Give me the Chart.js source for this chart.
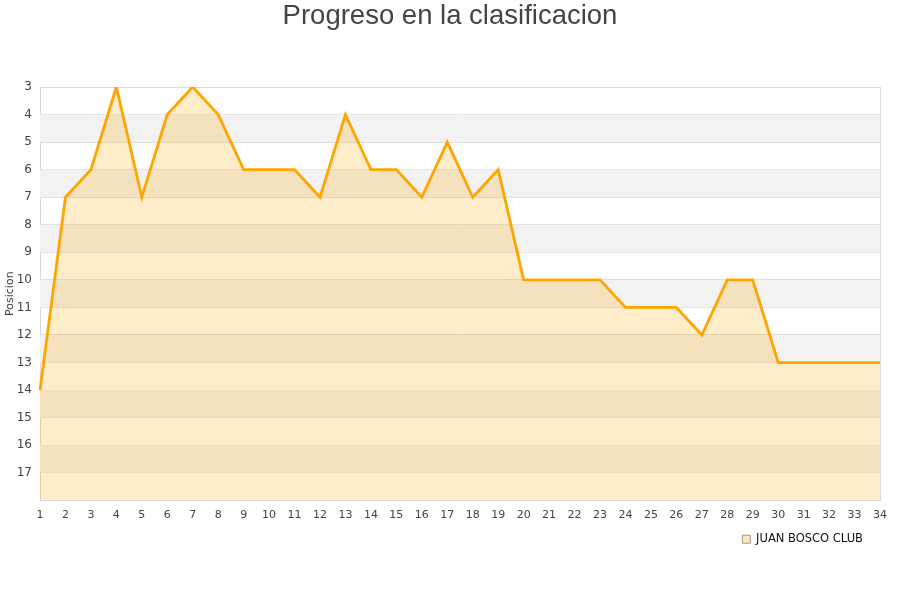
<!DOCTYPE html>
<html>
<head>
<meta charset="utf-8">
<script src="https://cdn.jsdelivr.net/npm/chart.js@4/dist/chart.umd.min.js"></script>
<style>
html,body{margin:0;padding:0;background:#fff;}
#wrap{width:900px;height:600px;}
</style>
</head>
<body>
<div id="wrap"><canvas id="c" width="900" height="600"></canvas></div>
<script>
const jornadas = ['1','2','3','4','5','6','7','8','9','10','11','12','13','14','15','16','17','18','19','20','21','22','23','24','25','26','27','28','29','30','31','32','33','34'];
const posiciones = [14,7,6,3,7,4,3,4,6,6,6,7,4,6,6,7,5,7,6,10,10,10,10,11,11,11,12,10,10,13,13,13,13,13];
const equipo = 'JUAN BOSCO CLUB';
const titulo = 'Progreso en la clasificacion';
const ejeY = 'Posicion';
const posMin = 3, posMax = 18;

const bands = {
  id: 'bands',
  afterLayout(chart) {
    if (chart.legend) chart.legend.right = 867;
  },
  beforeDatasetsDraw(chart) {
    const {ctx, chartArea: a, scales: {y}} = chart;
    ctx.save();
    for (let v = posMin; v < posMax; v++) {
      if ((v - posMin) % 2 === 1) {
        const p1 = y.getPixelForValue(v), p2 = y.getPixelForValue(v + 1);
        ctx.fillStyle = '#f2f2f2';
        ctx.fillRect(a.left, Math.min(p1, p2), a.right - a.left, Math.abs(p2 - p1));
      }
    }
    ctx.restore();
  },
  afterDraw(chart) {
    const {ctx, chartArea: a} = chart;
    ctx.save();
    ctx.strokeStyle = '#dcdcdc';
    ctx.lineWidth = 1;
    ctx.beginPath();
    ctx.moveTo(a.right + 0.5, a.top);
    ctx.lineTo(a.right + 0.5, a.bottom);
    ctx.stroke();
    ctx.restore();
  }
};

new Chart(document.getElementById('c'), {
  type: 'line',
  data: {
    labels: jornadas,
    datasets: [{
      label: equipo,
      data: posiciones,
      borderColor: '#ffa500',
      backgroundColor: 'rgba(255,165,0,0.21)',
      borderWidth: 2.8,
      pointRadius: 0,
      fill: 'start',
      tension: 0
    }]
  },
  options: {
    responsive: false,
    animation: false,
    layout: { padding: { left: 0, right: 0, top: 0, bottom: 45 } },
    plugins: {
      title: {
        display: true, text: titulo, color: '#444',
        font: { family: 'Liberation Sans', size: 27.5, weight: 'normal' },
        padding: { top: 0, bottom: 54 }
      },
      legend: {
        position: 'bottom', align: 'end',
        labels: {
          color: '#111',
          font: { family: 'DejaVu Sans', size: 11.5 },
          boxWidth: 8, boxHeight: 8,
          padding: 4,
          generateLabels(chart) {
            return chart.data.datasets.map((d, i) => ({
              text: d.label, fillStyle: '#fde6bf', strokeStyle: '#a89a80',
              lineWidth: 1, hidden: false, datasetIndex: i, fontColor: '#111'
            }));
          }
        }
      },
      tooltip: { enabled: false }
    },
    scales: {
      x: {
        offset: false,
        grid: { display: false, drawTicks: false },
        border: { color: '#d8d8d8' },
        ticks: { color: '#444', font: { family: 'DejaVu Sans', size: 11 }, maxRotation: 0, autoSkip: false, padding: 8 }
      },
      y: {
        reverse: true, min: posMin, max: posMax,
        title: { display: true, text: ejeY, color: '#444', font: { family: 'DejaVu Sans', size: 11 }, padding: { top: 4, bottom: 0 } },
        grid: { color: '#dcdcdc', drawTicks: false },
        border: { color: '#d8d8d8' },
        ticks: {
          stepSize: 1, color: '#444', font: { family: 'DejaVu Sans', size: 12 }, padding: 8,
          callback: v => (v >= posMax ? '' : v)
        },
        afterFit(s) { s.width = 40; }
      },
      yRight: {
        position: 'right', display: true,
        grid: { display: false, drawTicks: false },
        border: { display: false },
        ticks: { display: false },
        afterFit(s) { s.width = 20; }
      }
    }
  },
  plugins: [bands]
});
</script>
</body>
</html>
